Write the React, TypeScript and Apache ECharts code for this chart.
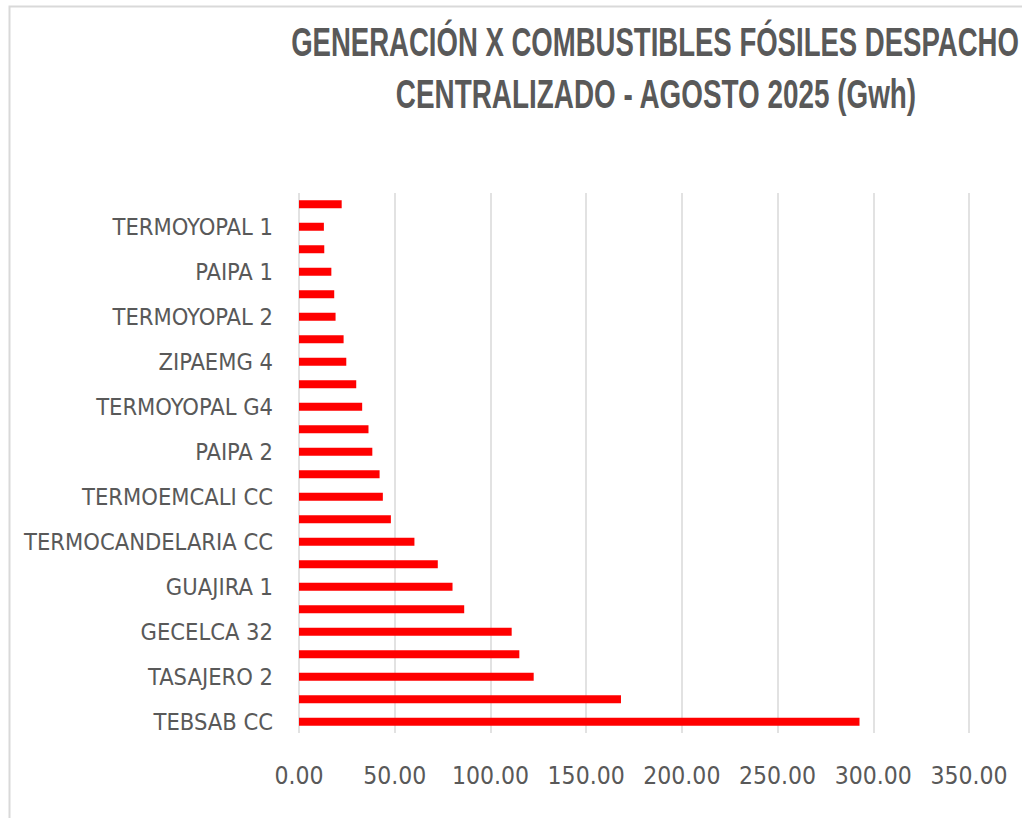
import React, { useEffect, useRef } from "react";
import * as echarts from "echarts";

// Categories from bottom to top (unlabeled plants in the source are hidden by the axis label interval)
const categories: string[] = [
  "TEBSAB CC",
  "PLANTA SIN ETIQUETA 1",
  "TASAJERO 2",
  "PLANTA SIN ETIQUETA 2",
  "GECELCA 32",
  "PLANTA SIN ETIQUETA 3",
  "GUAJIRA 1",
  "PLANTA SIN ETIQUETA 4",
  "TERMOCANDELARIA CC",
  "PLANTA SIN ETIQUETA 5",
  "TERMOEMCALI CC",
  "PLANTA SIN ETIQUETA 6",
  "PAIPA 2",
  "PLANTA SIN ETIQUETA 7",
  "TERMOYOPAL G4",
  "PLANTA SIN ETIQUETA 8",
  "ZIPAEMG 4",
  "PLANTA SIN ETIQUETA 9",
  "TERMOYOPAL 2",
  "PLANTA SIN ETIQUETA 10",
  "PAIPA 1",
  "PLANTA SIN ETIQUETA 11",
  "TERMOYOPAL 1",
  "PLANTA SIN ETIQUETA 12",
];

// Generation in GWh (August 2025)
const generationGwh: number[] = [
  292.8, 168.2, 122.6, 115.1, 111.1, 86.3, 80.2, 72.5, 60.3, 48.0, 43.8, 42.1,
  38.3, 36.3, 33.0, 29.9, 24.7, 23.3, 19.1, 18.4, 16.9, 13.2, 13.0, 22.3,
];

const titleLines: string[] = [
  "GENERACIÓN X COMBUSTIBLES FÓSILES DESPACHO",
  "CENTRALIZADO - AGOSTO 2025 (Gwh)",
];

const xMin = 0;
const xMax = 350;
const xInterval = 50;

const LABEL_COLOR = "#595959";
const GRID_COLOR = "#d9d9d9";
const CONDENSED = "'DejaVu Sans Condensed', 'DejaVu Sans', sans-serif";

export default function App() {
  const ref = useRef<HTMLDivElement>(null);

  useEffect(() => {
    if (!ref.current) return;
    const chart = echarts.init(ref.current, null, { renderer: "svg" });
    chart.setOption({
      animation: false,
      backgroundColor: "#ffffff",
      graphic: [
        {
          type: "rect",
          silent: true,
          shape: { x: 9.5, y: 6.5, width: 1100, height: 900 },
          style: { fill: "none", stroke: GRID_COLOR, lineWidth: 2 },
        },
        {
          type: "text",
          x: 655,
          y: 41,
          scaleX: 0.672,
          style: {
            text: titleLines[0],
            fontFamily: "'Liberation Sans', Arial, sans-serif",
            fontWeight: "bold",
            fontSize: 41,
            fill: LABEL_COLOR,
            align: "center",
            verticalAlign: "middle",
          },
        },
        {
          type: "text",
          x: 656,
          y: 93,
          scaleX: 0.68,
          style: {
            text: titleLines[1],
            fontFamily: "'Liberation Sans', Arial, sans-serif",
            fontWeight: "bold",
            fontSize: 41,
            fill: LABEL_COLOR,
            align: "center",
            verticalAlign: "middle",
          },
        },
      ],
      grid: { left: 299, right: 53, top: 193, bottom: 85, outerBoundsMode: "none", containLabel: false },
      xAxis: {
        type: "value",
        min: xMin,
        max: xMax,
        interval: xInterval,
        axisLine: { show: false },
        axisTick: { show: false },
        splitLine: { show: true, lineStyle: { color: GRID_COLOR, width: 1.5 } },
        axisLabel: {
          color: LABEL_COLOR,
          fontFamily: CONDENSED,
          fontSize: 24.5,
          margin: 30,
          formatter: (v: number) => v.toFixed(2),
        },
      },
      yAxis: {
        type: "category",
        data: categories,
        axisLine: { show: false },
        axisTick: { show: false },
        splitLine: { show: false },
        axisLabel: {
          interval: 1,
          color: LABEL_COLOR,
          fontFamily: CONDENSED,
          fontSize: 23.5,
          margin: 26,
        },
      },
      series: [
        {
          type: "bar",
          data: generationGwh,
          barWidth: 8,
          itemStyle: { color: "#ff0000" },
        },
      ],
    });
    return () => chart.dispose();
  }, []);

  return (
    <div
      ref={ref}
      style={{ position: "fixed", left: 0, top: 0, width: 1022, height: 818 }}
    />
  );
}
